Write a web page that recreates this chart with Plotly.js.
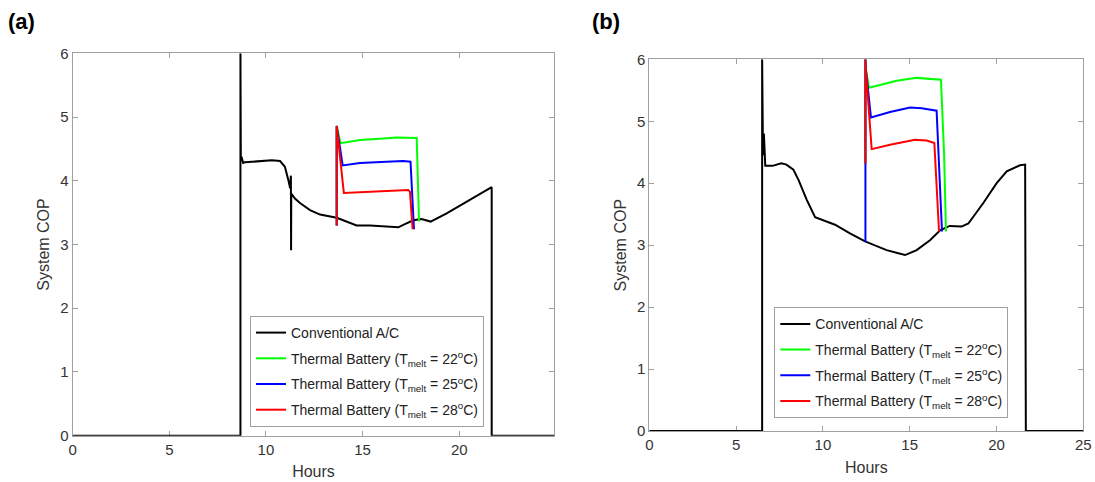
<!DOCTYPE html>
<html>
<head>
<meta charset="utf-8">
<script src="https://cdn.plot.ly/plotly-3.0.1.min.js"></script>
<style>html,body{margin:0;padding:0;background:#fff;}#chart{width:1095px;height:482px;}</style>
</head>
<body>
<div id="chart"></div>
<script>
// ---------- Panel (a) ----------
const hoursA_conv = [0, 8.68, 8.68, 8.70, 8.75, 8.82, 8.9, 9.3, 9.8, 10.3, 10.73, 10.98, 11.16, 11.25, 11.29, 11.30, 11.31, 11.5, 11.76, 12.28, 12.8, 13.66, 14.17, 14.69, 15.38, 16.07, 16.85, 17.19, 17.62, 18.05, 18.52, 19.35, 20.38, 21.24, 21.68, 21.68, 24.92];
const copA_conv   = [0, 0, 6, 4.35, 4.36, 4.28, 4.29, 4.30, 4.31, 4.32, 4.31, 4.22, 4.01, 3.88, 4.08, 2.91, 3.80, 3.72, 3.65, 3.54, 3.47, 3.42, 3.36, 3.30, 3.30, 3.29, 3.27, 3.32, 3.38, 3.40, 3.36, 3.49, 3.67, 3.81, 3.90, 0, 0];

const hoursA_22 = [13.66, 13.66, 13.86, 14.86, 15.9, 16.76, 17.8, 17.92];
const copA_22   = [3.30, 4.86, 4.59, 4.64, 4.66, 4.68, 4.67, 3.36];
const hoursA_25 = [13.66, 13.66, 13.97, 14.86, 16.24, 17.1, 17.48, 17.66];
const copA_25   = [3.30, 4.86, 4.24, 4.28, 4.30, 4.31, 4.30, 3.24];
const hoursA_28 = [13.66, 13.66, 14.03, 14.9, 16.2, 17.36, 17.45, 17.59];
const copA_28   = [3.30, 4.86, 3.81, 3.82, 3.84, 3.855, 3.83, 3.24];

// ---------- Panel (b) ----------
const hoursB_conv = [0, 6.5, 6.5, 6.55, 6.6, 6.68, 7.1, 7.6, 7.9, 8.3, 8.6, 9.07, 9.55, 10.0, 10.7, 11.56, 12.43, 13.67, 14.73, 15.4, 16.17, 16.75, 17.3, 17.99, 18.38, 19.24, 20.01, 20.59, 21.35, 21.65, 21.69, 25];
const copB_conv   = [0, 0, 6, 4.45, 4.8, 4.28, 4.28, 4.32, 4.30, 4.22, 4.05, 3.73, 3.45, 3.40, 3.33, 3.19, 3.06, 2.92, 2.84, 2.92, 3.08, 3.24, 3.31, 3.30, 3.35, 3.68, 4.0, 4.19, 4.29, 4.30, 0, 0];

const hoursB_22 = [12.45, 12.45, 12.47, 12.66, 13.29, 14.25, 15.4, 16.17, 16.8, 16.98, 17.09];
const copB_22   = [4.32, 6.0, 5.85, 5.54, 5.585, 5.655, 5.70, 5.69, 5.67, 4.48, 3.22];
const hoursB_25 = [12.45, 12.45, 12.47, 12.77, 13.87, 15.02, 15.69, 16.55, 16.7, 16.86];
const copB_25   = [3.05, 6.0, 5.85, 5.06, 5.15, 5.22, 5.21, 5.17, 4.16, 3.22];
const hoursB_28 = [12.45, 12.45, 12.47, 12.81, 13.87, 15.3, 15.98, 16.42, 16.55, 16.69];
const copB_28   = [4.32, 6.0, 5.85, 4.55, 4.62, 4.70, 4.69, 4.65, 3.89, 3.22];

const seriesNames = [
  'Conventional A/C',
  'Thermal Battery (T<sub>melt</sub> = 22<sup>o</sup>C)',
  'Thermal Battery (T<sub>melt</sub> = 25<sup>o</sup>C)',
  'Thermal Battery (T<sub>melt</sub> = 28<sup>o</sup>C)'
];
const seriesColors = ['#000000', '#00ff00', '#0000ff', '#ff0000'];
const xTicksA = [0, 5, 10, 15, 20];
const xTicksB = [0, 5, 10, 15, 20, 25];
const yTicks = [0, 1, 2, 3, 4, 5, 6];

const FONT = 'Liberation Sans, Arial, sans-serif';

function tr(x, y, i, xa, ya, leg) {
  return {x: x, y: y, type: 'scatter', mode: 'lines', name: seriesNames[i],
    xaxis: xa, yaxis: ya, legend: leg, legendgroup: leg + '_' + i,
    line: {color: seriesColors[i], width: 2}, hoverinfo: 'skip'};
}

const data = [
  tr(hoursA_conv, copA_conv, 0, 'x', 'y', 'legend'),
  tr(hoursA_22, copA_22, 1, 'x', 'y', 'legend'),
  tr(hoursA_25, copA_25, 2, 'x', 'y', 'legend'),
  tr(hoursA_28, copA_28, 3, 'x', 'y', 'legend'),
  tr(hoursB_conv, copB_conv, 0, 'x2', 'y2', 'legend2'),
  tr(hoursB_22, copB_22, 1, 'x2', 'y2', 'legend2'),
  tr(hoursB_25, copB_25, 2, 'x2', 'y2', 'legend2'),
  tr(hoursB_28, copB_28, 3, 'x2', 'y2', 'legend2')
];

const axisCommon = {
  showline: true, linecolor: '#a0a0a0', linewidth: 1, mirror: 'allticks',
  ticks: 'inside', ticklen: 5, tickwidth: 1, tickcolor: '#a0a0a0',
  showgrid: false, zeroline: false, layer: 'below traces',
  tickfont: {family: FONT, size: 15, color: '#333'}, fixedrange: true
};

const legendCommon = {
  xanchor: 'left', yanchor: 'top', bgcolor: '#ffffff',
  bordercolor: '#a0a0a0', borderwidth: 1, tracegroupgap: 4.5,
  font: {family: FONT, size: 14, color: '#222'}
};

const layout = {
  width: 1095, height: 482,
  margin: {l: 0, r: 0, t: 0, b: 0},
  paper_bgcolor: '#ffffff', plot_bgcolor: '#ffffff',
  showlegend: true,
  xaxis: Object.assign({}, axisCommon, {domain: [72.7/1095, 554.3/1095], range: [0, 24.92], tickvals: xTicksA,
    title: {text: 'Hours', font: {family: FONT, size: 16, color: '#333'}, standoff: 9}, anchor: 'y'}),
  yaxis: Object.assign({}, axisCommon, {domain: [1 - 435.7/482, 1 - 53.3/482], range: [0, 6], tickvals: yTicks,
    title: {text: 'System COP', font: {family: FONT, size: 16, color: '#333'}, standoff: 6}, anchor: 'x'}),
  xaxis2: Object.assign({}, axisCommon, {domain: [649.3/1095, 1083.3/1095], range: [0, 25], tickvals: xTicksB,
    title: {text: 'Hours', font: {family: FONT, size: 16, color: '#333'}, standoff: 9}, anchor: 'y2'}),
  yaxis2: Object.assign({}, axisCommon, {domain: [1 - 431/482, 1 - 59.3/482], range: [0, 6], tickvals: yTicks,
    title: {text: 'System COP', font: {family: FONT, size: 16, color: '#333'}, standoff: 6}, anchor: 'x2'}),
  legend: Object.assign({}, legendCommon, {x: 250/1095, y: 1 - 316/482}),
  legend2: Object.assign({}, legendCommon, {x: 774.3/1095, y: 1 - 307.3/482}),
  annotations: [
    {text: '<b>(a)</b>', xref: 'paper', yref: 'paper', x: 6/1095, y: 1 - 22/482, xanchor: 'left', yanchor: 'middle',
      showarrow: false, font: {family: FONT, size: 22, color: '#000'}},
    {text: '<b>(b)</b>', xref: 'paper', yref: 'paper', x: 590/1095, y: 1 - 22/482, xanchor: 'left', yanchor: 'middle',
      showarrow: false, font: {family: FONT, size: 22, color: '#000'}}
  ]
};

Plotly.newPlot('chart', data, layout, {displayModeBar: false, staticPlot: true});
</script>
</body>
</html>
